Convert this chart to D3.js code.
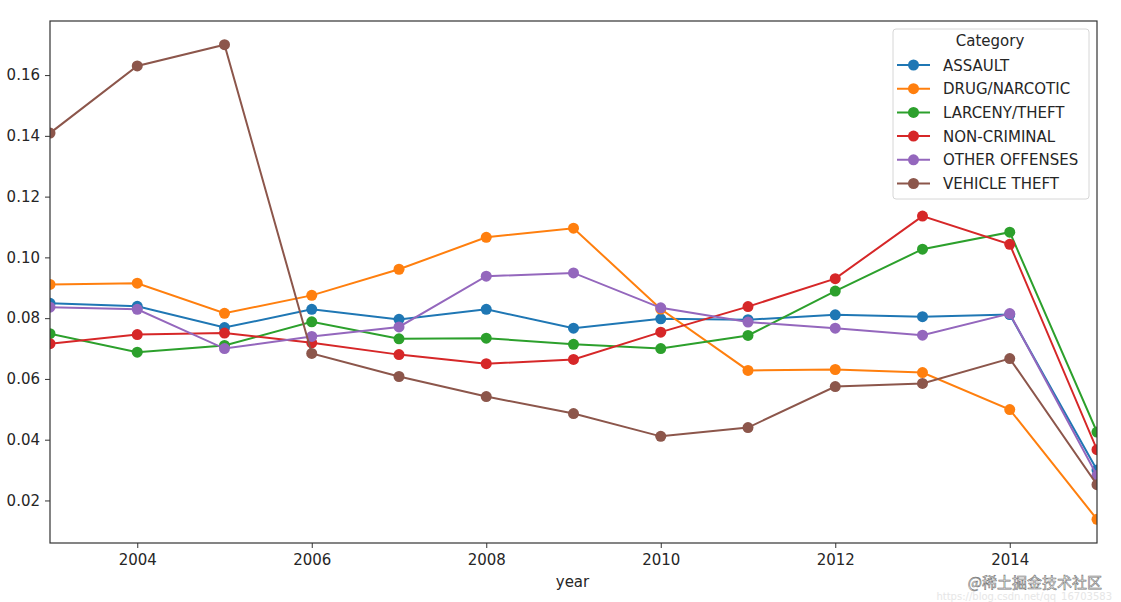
<!DOCTYPE html>
<html>
<head>
<meta charset="utf-8">
<script src="https://cdn.jsdelivr.net/npm/d3@7"></script>
<style>
  body { margin: 0; background: #fff; }
  text { font-family: "DejaVu Sans", sans-serif; }
</style>
</head>
<body>
<div class="chart"></div>
<script>
/* data */
const years = [2003, 2004, 2005, 2006, 2007, 2008, 2009, 2010, 2011, 2012, 2013, 2014, 2015]
const categories = ['ASSAULT', 'DRUG/NARCOTIC', 'LARCENY/THEFT', 'NON-CRIMINAL', 'OTHER OFFENSES', 'VEHICLE THEFT']
const assault = [0.0849, 0.0839, 0.0769, 0.0829, 0.0796, 0.0829, 0.0767, 0.0798, 0.0795, 0.0811, 0.0805, 0.0812, 0.0300]
const drug = [0.0911, 0.0915, 0.0816, 0.0875, 0.0961, 0.1066, 0.1096, 0.0830, 0.0628, 0.0631, 0.0621, 0.0499, 0.0138]
const larceny = [0.0749, 0.0688, 0.0710, 0.0788, 0.0732, 0.0734, 0.0714, 0.0700, 0.0743, 0.0889, 0.1027, 0.1083, 0.0425]
const nonCriminal = [0.0716, 0.0746, 0.0751, 0.0719, 0.0680, 0.0650, 0.0664, 0.0754, 0.0838, 0.0930, 0.1136, 0.1043, 0.0367]
const otherOffenses = [0.0836, 0.0829, 0.0700, 0.0740, 0.0771, 0.0938, 0.0949, 0.0834, 0.0787, 0.0767, 0.0744, 0.0815, 0.0282]
const vehicleTheft = [0.1409, 0.1630, 0.1700, 0.0684, 0.0608, 0.0542, 0.0486, 0.0411, 0.0440, 0.0575, 0.0585, 0.0667, 0.0252]
const xTicks = [2004, 2006, 2008, 2010, 2012, 2014]
const yTicks = [0.02, 0.04, 0.06, 0.08, 0.10, 0.12, 0.14, 0.16]
const colors = ['#1f77b4', '#ff7f0e', '#2ca02c', '#d62728', '#9467bd', '#8c564b']

const series = [assault, drug, larceny, nonCriminal, otherOffenses, vehicleTheft]
    .map((vals, i) => ({ name: categories[i], color: colors[i], values: vals }))

const width = 1121
const height = 602
const box = { left: 50, right: 1097, top: 21, bottom: 543 }
const fontSize = 15

const svg = d3.select('.chart')
    .append('svg')
    .attr('width', width)
    .attr('height', height)

const x = d3.scaleLinear().domain([2003, 2015]).range([box.left, box.right])
const y = d3.scaleLinear().domain([0.0060, 0.1778]).range([box.bottom, box.top])

// clip so the end markers are cut at the frame, like matplotlib
svg.append('clipPath').attr('id', 'clip')
    .append('rect')
    .attr('x', box.left).attr('y', box.top)
    .attr('width', box.right - box.left).attr('height', box.bottom - box.top)

const plot = svg.append('g').attr('clip-path', 'url(#clip)')
const line = d3.line().x((d, i) => x(years[i])).y(d => y(d))

series.forEach(s => {
    plot.append('path')
        .attr('d', line(s.values))
        .attr('fill', 'none')
        .attr('stroke', s.color)
        .attr('stroke-width', 2)
    plot.selectAll(null)
        .data(s.values)
        .enter()
        .append('circle')
        .attr('cx', (d, i) => x(years[i]))
        .attr('cy', d => y(d))
        .attr('r', 5.5)
        .attr('fill', s.color)
})

// axes
const xAxis = svg.append('g')
    .attr('transform', `translate(0,${box.bottom})`)
    .call(d3.axisBottom(x).tickValues(xTicks).tickFormat(d3.format('d')).tickSize(5).tickPadding(6))
const yAxis = svg.append('g')
    .attr('transform', `translate(${box.left},0)`)
    .call(d3.axisLeft(y).tickValues(yTicks).tickFormat(d3.format('.2f')).tickSize(5).tickPadding(5))

;[xAxis, yAxis].forEach(a => {
    a.select('.domain').remove()
    a.selectAll('line').attr('stroke', '#333')
    a.selectAll('text').attr('font-size', fontSize).attr('fill', '#262626')
        .style('font-family', '"DejaVu Sans", sans-serif')
})

// frame
svg.append('rect')
    .attr('x', box.left).attr('y', box.top)
    .attr('width', box.right - box.left).attr('height', box.bottom - box.top)
    .attr('fill', 'none')
    .attr('stroke', '#333')
    .attr('stroke-width', 1.2)

svg.append('text')
    .attr('x', (box.left + box.right) / 2 - 1)
    .attr('y', 587)
    .attr('text-anchor', 'middle')
    .attr('font-size', fontSize)
    .attr('fill', '#262626')
    .text('year')

// legend
const legend = svg.append('g')
legend.append('rect')
    .attr('x', 893).attr('y', 29)
    .attr('width', 196).attr('height', 170)
    .attr('rx', 3)
    .attr('fill', 'rgba(255,255,255,0.85)')
    .attr('stroke', '#d6d6d6')
legend.append('text')
    .attr('x', 990).attr('y', 46)
    .attr('text-anchor', 'middle')
    .attr('font-size', fontSize)
    .attr('fill', '#262626')
    .text('Category')
series.forEach((s, i) => {
    const ly = 65 + i * 23.7
    legend.append('line')
        .attr('x1', 897).attr('x2', 930)
        .attr('y1', ly).attr('y2', ly)
        .attr('stroke', s.color).attr('stroke-width', 2)
    legend.append('circle')
        .attr('cx', 913.5).attr('cy', ly).attr('r', 5.5)
        .attr('fill', s.color)
    legend.append('text')
        .attr('x', 943).attr('y', ly + 5.5)
        .attr('font-size', fontSize)
        .attr('fill', '#262626')
        .text(s.name)
})

// watermark
svg.append('text')
    .attr('x', 1112).attr('y', 600)
    .attr('text-anchor', 'end')
    .attr('font-size', 10)
    .attr('fill', '#e6e6e6')
    .text('https://blog.csdn.net/qq_16703583')
svg.append('text')
    .attr('x', 1102).attr('y', 588)
    .attr('text-anchor', 'end')
    .attr('font-size', 15)
    .attr('fill', '#fff')
    .attr('stroke', '#777')
    .attr('stroke-width', 0.6)
    .style('font-family', '"Noto Sans CJK SC", sans-serif')
    .text('@稀土掘金技术社区')
</script>
</body>
</html>
